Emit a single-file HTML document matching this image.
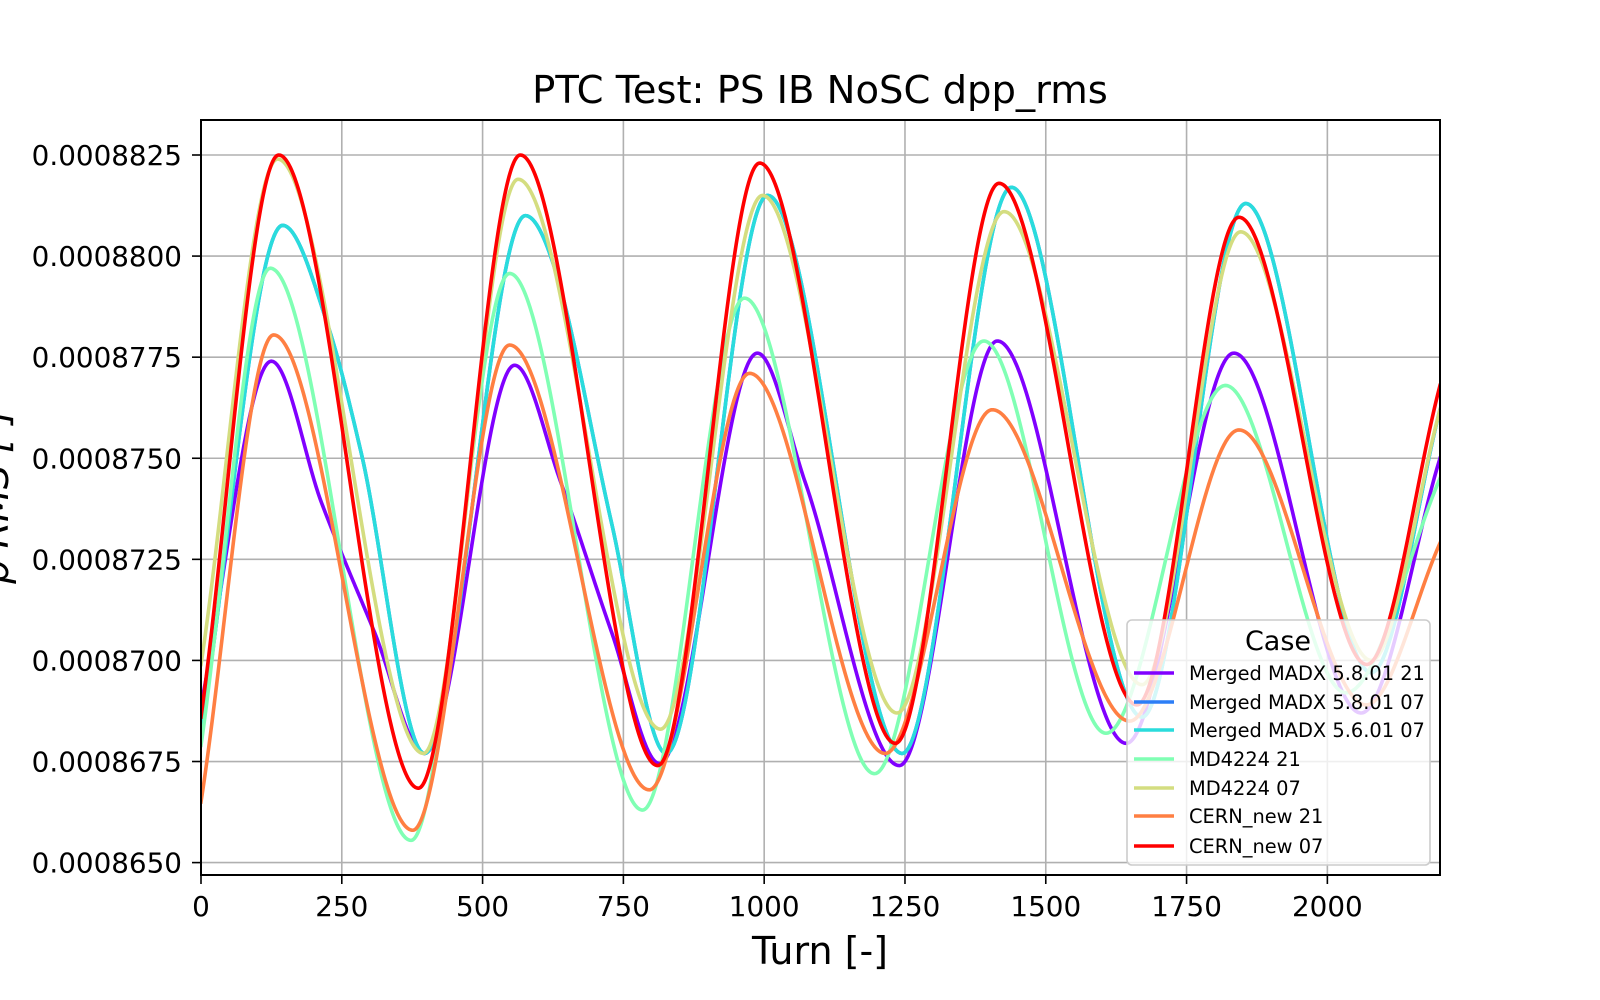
<!DOCTYPE html>
<html><head><meta charset="utf-8"><style>
html,body{margin:0;padding:0;background:#fff;}
svg{display:block;font-family:"DejaVu Sans","Liberation Sans",sans-serif;}
</style></head><body>
<svg id="chart" width="1600" height="1000" viewBox="0 0 1600 1000">
<rect width="1600" height="1000" fill="#fff"/>
<defs><clipPath id="plotclip"><rect x="201" y="120" width="1239" height="755"/></clipPath></defs>
<g id="grid"></g>
<g id="lines" clip-path="url(#plotclip)"></g>
<rect x="201" y="120" width="1239" height="755" fill="none" stroke="#000" stroke-width="2"/>
<g id="ticks"></g>
<text x="820" y="103" text-anchor="middle" font-size="38.5">PTC Test: PS IB NoSC dpp_rms</text>
<text x="820" y="964" text-anchor="middle" font-size="38">Turn [-]</text>
<text transform="translate(8,497) rotate(-90)" text-anchor="middle" font-size="38" font-style="italic">ρ RMS [-]</text>
<g id="legend"></g>
</svg>
<script>
const xTicks = [0,250,500,750,1000,1250,1500,1750,2000];
const yTicks = [0.0008650,0.0008675,0.0008700,0.0008725,0.0008750,0.0008775,0.0008800,0.0008825];
const seriesNames = ["Merged MADX 5.8.01 21","Merged MADX 5.8.01 07","Merged MADX 5.6.01 07","MD4224 21","MD4224 07","CERN_new 21","CERN_new 07"];
const seriesColors = ["#8000ff","#2c7ef7","#2adcdc","#80ffb4","#d4dd80","#ff7f42","#ff0000"];
const purpleT = [0,125,214,308,397,557,639,729,814,988,1073,1240,1414,1643,1834,2060,2200];
const purpleV = [8689,8774,8739,8707,8677,8773,8744,8707,8674.5,8776,8744,8674,8779,8679.5,8776,8687,8750];
const blueT = [0,145,225,285,397,576,628,729,826,1006,1245,1439,1671,1855,2078,2200];
const blueV = [8682,8807.6,8783,8751,8677,8810,8797,8734,8677,8815,8677,8817,8686,8813,8697,8762];
const cyanT = [0,145,225,285,397,576,628,729,826,1006,1245,1439,1671,1855,2078,2200];
const cyanV = [8682,8807.6,8783,8751,8677,8810,8797,8734,8677,8815,8677,8817,8686,8813,8697,8762];
const mintT = [0,123,373,548,784,965,1196,1390,1607,1819,2033,2200];
const mintV = [8679,8797,8655.5,8795.7,8663,8789.6,8672,8779,8682,8768,8692,8745];
const khakiT = [0,136,395,563,816,997,1236,1426,1671,1846,2078,2200];
const khakiV = [8699,8824,8677,8819,8683,8815,8687,8811,8694,8806,8700,8762];
const orangeT = [0,129,376,548,796,974,1215,1405,1649,1843,2069,2200];
const orangeV = [8665,8780.5,8658,8778,8668,8771,8677,8762,8685,8757,8689,8729];
const redT = [0,138,386,567,811,992,1233,1417,1662,1843,2070,2200];
const redV = [8686,8825,8668.4,8825,8674,8823,8679.5,8818,8689,8809.6,8699,8768];
const valueScale = 1e-7;

const NS="http://www.w3.org/2000/svg";
const X0=201,X1=1440,XMAX=2200;
const Y825=155,Y650=862.6;
function xs(t){return X0+t*(X1-X0)/XMAX;}
function ys(v){return Y825+(0.0008825-v)*(Y650-Y825)/(0.0008825-0.0008650);}
function mk(tag,attrs,parent){const e=document.createElementNS(NS,tag);for(const k in attrs)e.setAttribute(k,attrs[k]);parent.appendChild(e);return e;}

const grid=document.getElementById('grid'),ticks=document.getElementById('ticks');
xTicks.forEach(t=>{
  const g=mk('line',{x1:xs(t),x2:xs(t),y1:120,y2:875,stroke:'#b0b0b0','stroke-width':1.6},grid);
  
  
  const tk=mk('line',{x1:xs(t),x2:xs(t),y1:875,y2:884,stroke:'#000','stroke-width':1.6},ticks);
  
  
  const lb=mk('text',{x:xs(t),y:916,'text-anchor':'middle','font-size':27.8},ticks);
  lb.textContent=t;
  
  
});
yTicks.forEach(v=>{
  const g=mk('line',{x1:X0,x2:X1,y1:ys(v),y2:ys(v),stroke:'#b0b0b0','stroke-width':1.6},grid);
  
  
  const tk=mk('line',{x1:X0-9,x2:X0,y1:ys(v),y2:ys(v),stroke:'#000','stroke-width':1.6},ticks);
  
  
  const lb=mk('text',{x:X0-19,y:ys(v)+10,'text-anchor':'end','font-size':27.8},ticks);
  lb.textContent=v.toFixed(7);
  
  
});

function monotone(T,V){
  const n=T.length,d=[],m=new Array(n);
  for(let i=0;i<n-1;i++)d.push((V[i+1]-V[i])/(T[i+1]-T[i]));
  m[0]=d[0];m[n-1]=d[n-2];
  for(let i=1;i<n-1;i++){m[i]=(d[i-1]*d[i]<=0)?0:(d[i-1]+d[i])/2;}
  for(let i=0;i<n-1;i++){
    if(d[i]===0){m[i]=0;m[i+1]=0;continue;}
    const a=m[i]/d[i],b=m[i+1]/d[i],s=a*a+b*b;
    if(s>9){const tau=3/Math.sqrt(s);m[i]=tau*a*d[i];m[i+1]=tau*b*d[i];}
  }
  const pts=[];
  for(let i=0;i<n-1;i++){
    const h=T[i+1]-T[i],steps=Math.max(4,Math.ceil(h/2));
    for(let k=0;k<(i===n-2?steps+1:steps);k++){
      const s=k/steps,t=T[i]+s*h;
      const h00=2*s*s*s-3*s*s+1,h10=s*s*s-2*s*s+s,h01=-2*s*s*s+3*s*s,h11=s*s*s-s*s;
      const v=h00*V[i]+h10*h*m[i]+h01*V[i+1]+h11*h*m[i+1];
      pts.push([t,v]);
    }
  }
  return pts;
}
const allT=[purpleT,blueT,cyanT,mintT,khakiT,orangeT,redT];
const allV=[purpleV,blueV,cyanV,mintV,khakiV,orangeV,redV];
const lines=document.getElementById('lines');
allT.forEach((T,i)=>{
  const pts=monotone(T,allV[i]);
  const d=pts.map((p,j)=>(j?'L':'M')+xs(p[0]).toFixed(2)+','+ys(p[1]*valueScale).toFixed(2)).join('');
  const p=mk('path',{d:d,fill:'none',stroke:seriesColors[i],'stroke-width':3.6,'stroke-linejoin':'round','stroke-linecap':'square'},lines);
  
  
});

const lg=document.getElementById('legend');
const box=mk('rect',{x:1127,y:620,width:303,height:245,rx:5,fill:'#fff','fill-opacity':0.8,stroke:'#cccccc','stroke-width':1.6},lg);


const lt=mk('text',{x:1278,y:650,'text-anchor':'middle','font-size':27},lg);
lt.textContent='Case';


const ly=[673,702,730,759,788,816,846];
seriesNames.forEach((nm,i)=>{
  const g=mk('g',{},lg);
  
  
  mk('line',{x1:1134,x2:1174,y1:ly[i],y2:ly[i],stroke:seriesColors[i],'stroke-width':3.6},g);
  const t=mk('text',{x:1189,y:ly[i]+7,'font-size':19.4},g);
  t.textContent=nm;
});
</script>
</body></html>
